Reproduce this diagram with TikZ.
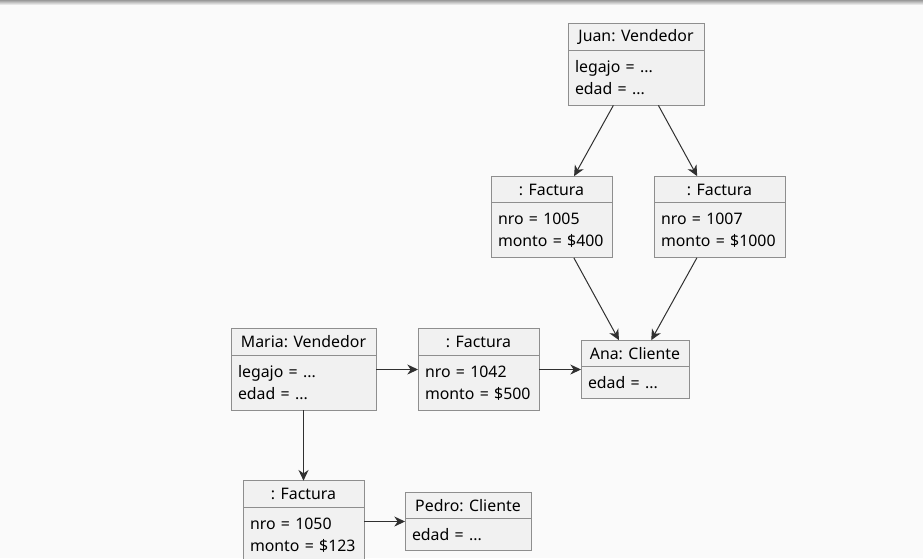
\documentclass[tikz,border=0pt]{standalone}
\usepackage{fontspec}
\setmainfont{Noto Sans}
\usetikzlibrary{arrows.meta,positioning,fit}
\definecolor{fondo}{HTML}{FAFAFA}
\definecolor{caja}{HTML}{F1F1F1}
\definecolor{borde}{HTML}{8E8E8E}
\definecolor{linea}{HTML}{303030}

\begin{document}
\begin{tikzpicture}[
  x=0.75pt,y=-0.75pt,
  objfont/.style={font=\fontsize{11.9}{16.5}\selectfont},
  head/.style={draw=borde,fill=caja,line width=0.75pt,objfont,
               minimum height=20pt,inner sep=0pt,outer sep=0pt},
  body/.style={draw=borde,fill=caja,line width=0.75pt,objfont,align=left,
               inner xsep=5.25pt,inner ysep=0pt,outer sep=0pt,
               minimum height=41.25pt},
  body1/.style={body,minimum height=24pt},
  whole/.style={inner sep=0pt,outer sep=0pt},
  flecha/.style={-{Stealth[length=8pt,width=7.5pt,inset=2.5pt]},
                 draw=linea,line width=0.75pt}
]
% fondo
\fill[fondo] (0,0) rectangle (923,558);
\shade[top color=black!40,bottom color=fondo] (0,0) rectangle (923,5);
\useasboundingbox (0,0) rectangle (923,558);

% objetos
\node[head,minimum width=102pt] (juanh) at (636,37) {Juan: Vendedor};
\node[body,text width=91.5pt,below=0pt of juanh] (juanb) {legajo = ...\\edad = ...};
\node[whole,fit=(juanh)(juanb)] (juan) {};

\node[head,minimum width=90.75pt] (f1005h) at (551.5,189.5) {: Factura};
\node[body,text width=80.25pt,below=0pt of f1005h] (f1005b) {nro = 1005\\monto = \$400};
\node[whole,fit=(f1005h)(f1005b)] (f1005) {};

\node[head,minimum width=98.25pt] (f1007h) at (719.5,189.5) {: Factura};
\node[body,text width=87.75pt,below=0pt of f1007h] (f1007b) {nro = 1007\\monto = \$1000};
\node[whole,fit=(f1007h)(f1007b)] (f1007) {};

\node[head,minimum width=108.75pt] (mariah) at (303.5,342) {Maria: Vendedor};
\node[body,text width=98.25pt,below=0pt of mariah] (mariab) {legajo = ...\\edad = ...};
\node[whole,fit=(mariah)(mariab)] (maria) {};

\node[head,minimum width=90.75pt] (f1042h) at (478.5,342) {: Factura};
\node[body,text width=80.25pt,below=0pt of f1042h] (f1042b) {nro = 1042\\monto = \$500};
\node[whole,fit=(f1042h)(f1042b)] (f1042) {};

\node[head,minimum width=81pt] (anah) at (635,353.5) {Ana: Cliente};
\node[body1,text width=70.5pt,below=0pt of anah] (anab) {edad = ...};
\node[whole,fit=(anah)(anab)] (ana) {};

\node[head,minimum width=90.75pt] (f1050h) at (303.5,494) {: Factura};
\node[body,text width=80.25pt,below=0pt of f1050h] (f1050b) {nro = 1050\\monto = \$123};
\node[whole,fit=(f1050h)(f1050b)] (f1050) {};

\node[head,minimum width=94.5pt] (pedroh) at (468,505.5) {Pedro: Cliente};
\node[body1,text width=84pt,below=0pt of pedroh] (pedrob) {edad = ...};
\node[whole,fit=(pedroh)(pedrob)] (pedro) {};

% enlaces
\draw[flecha] (juan) -- (f1005);
\draw[flecha] (juan) -- (f1007);
\draw[flecha] (f1005) -- (ana);
\draw[flecha] (f1007) -- (ana);
\draw[flecha] (maria) -- (f1042);
\draw[flecha] (f1042) -- (ana);
\draw[flecha] (maria) -- (f1050);
\draw[flecha] (f1050) -- (pedro);
\end{tikzpicture}
\end{document}
